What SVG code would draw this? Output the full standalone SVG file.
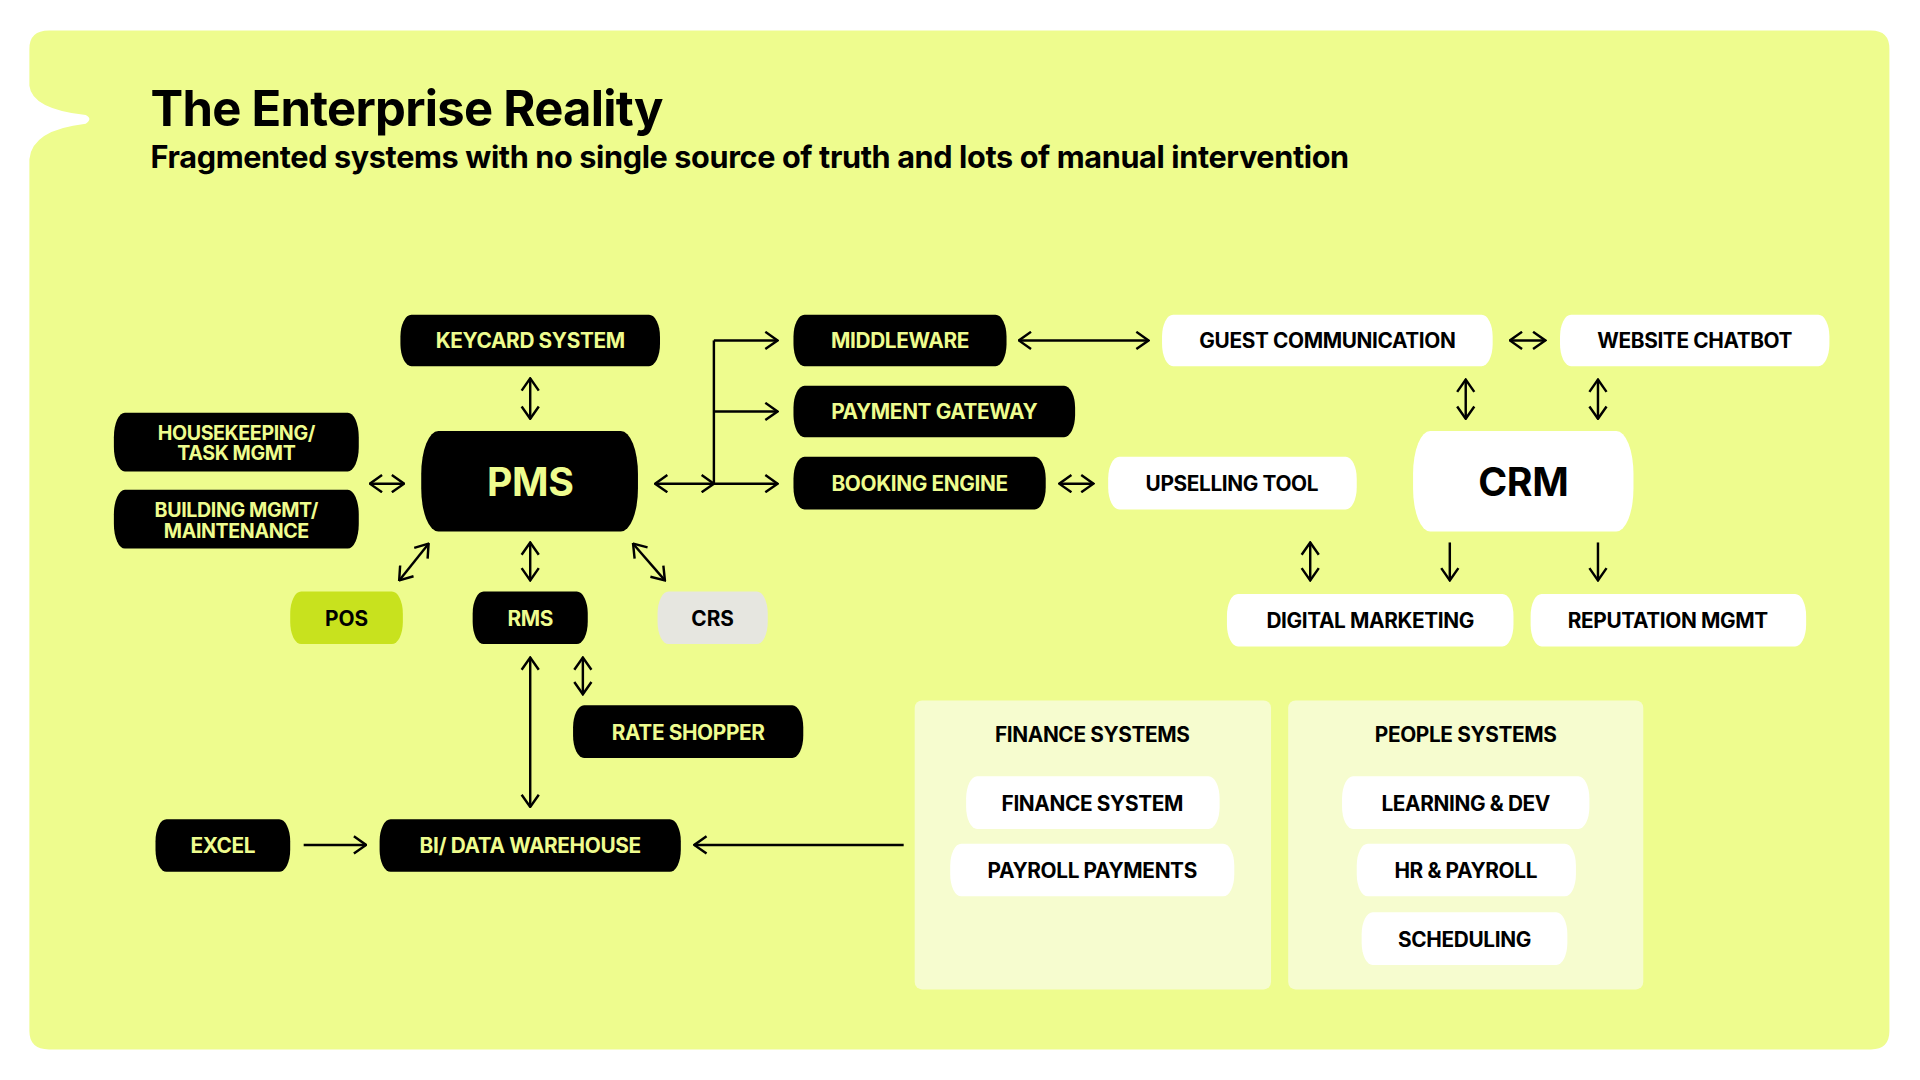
<svg xmlns="http://www.w3.org/2000/svg" width="1920" height="1080" viewBox="0 0 1920 1080">
<defs>
<marker id="ah" viewBox="0 0 12 16" refX="11" refY="8" markerWidth="12" markerHeight="16" markerUnits="userSpaceOnUse" orient="auto-start-reverse">
<path d="M1,1 L11,8 L1,15" fill="none" stroke="#000" stroke-width="2"/>
</marker>
<style>
text{font-family:Inter,"Liberation Sans",sans-serif;font-weight:700;text-anchor:middle}
.k rect{fill:#000}
.k text{fill:#EEFC8E;font-size:17px;letter-spacing:-0.3px}
.w rect{fill:#fff}
.w text{fill:#000;font-size:17px;letter-spacing:-0.3px}
.k text.s{font-size:16px}
.c line,.c path{stroke:#000;stroke-width:2;fill:none}
.d{marker-start:url(#ah);marker-end:url(#ah)}
.e{marker-end:url(#ah)}
</style>
</defs>
<rect width="1920" height="1080" fill="#fff"/>
<g transform="scale(1.2245)">
<path d="M40,25 H1528 Q1543,25 1543,40 V842 Q1543,857 1528,857 H40 Q24,857 24,842 V130 Q26,106 70,101 Q76,97 70,94 Q26,89 24,70 V40 Q24,25 40,25 Z" fill="#EEFC8E"/>
<text x="123" y="103" style="text-anchor:start;font-size:40px;letter-spacing:-0.6px" fill="#000">The Enterprise Reality</text>
<text x="123" y="137" style="text-anchor:start;font-size:25px;letter-spacing:-0.3px" fill="#000">Fragmented systems with no single source of truth and lots of manual intervention</text>

<g id="finance-group"><rect x="747" y="572" width="291" height="236" rx="6" fill="#F6FCCF"/><text x="892" y="606" font-size="17" fill="#000" letter-spacing="-0.3">FINANCE SYSTEMS</text></g>
<g id="people-group"><rect x="1052" y="572" width="290" height="236" rx="6" fill="#F6FCCF"/><text x="1197" y="606" font-size="17" fill="#000" letter-spacing="-0.3">PEOPLE SYSTEMS</text></g>

<g class="c" id="connectors">
<line class="d" x1="433" y1="309" x2="433" y2="342"/>
<line class="d" x1="302" y1="395" x2="330" y2="395"/>
<path class="e" d="M535,395 H583" style="marker-start:url(#ah)"/>
<path d="M583,395 V278"/>
<line class="e" x1="583" y1="278" x2="635" y2="278"/>
<line class="e" x1="583" y1="336" x2="635" y2="336"/>
<line class="e" x1="583" y1="395" x2="635" y2="395"/>
<line class="d" x1="832" y1="278" x2="938" y2="278"/>
<line class="d" x1="865" y1="395" x2="893" y2="395"/>
<line class="d" x1="1233" y1="278" x2="1262" y2="278"/>
<line class="d" x1="1197" y1="310" x2="1197" y2="342"/>
<line class="d" x1="1305" y1="310" x2="1305" y2="342"/>
<line class="d" x1="1070" y1="443" x2="1070" y2="474"/>
<line class="e" x1="1184" y1="443" x2="1184" y2="474"/>
<line class="e" x1="1305" y1="443" x2="1305" y2="474"/>
<line class="d" x1="350" y1="444" x2="326" y2="474"/>
<line class="d" x1="517" y1="444" x2="543" y2="474"/>
<line class="d" x1="433" y1="443" x2="433" y2="474"/>
<line class="d" x1="433" y1="537" x2="433" y2="659"/>
<line class="d" x1="476" y1="537" x2="476" y2="567"/>
<line class="e" x1="248" y1="690" x2="299" y2="690"/>
<line class="e" x1="738" y1="690" x2="567" y2="690"/>
</g>

<g id="keycard" class="k"><rect x="327" y="257" width="212" height="42" rx="9" ry="18"/><text x="433" y="284">KEYCARD SYSTEM</text></g>
<g id="housekeeping" class="k"><rect x="93" y="337" width="200" height="48" rx="9" ry="20"/><text class="s" x="193" y="359">HOUSEKEEPING/</text><text class="s" x="193" y="376">TASK MGMT</text></g>
<g id="building" class="k"><rect x="93" y="400" width="200" height="48" rx="9" ry="20"/><text class="s" x="193" y="422">BUILDING MGMT/</text><text class="s" x="193" y="439">MAINTENANCE</text></g>
<g id="pms" class="k"><rect x="344" y="352" width="177" height="82" rx="14" ry="35"/><text x="433" y="405" style="font-size:32px">PMS</text></g>
<g id="middleware" class="k"><rect x="648" y="257" width="174" height="42" rx="9" ry="18"/><text x="735" y="284">MIDDLEWARE</text></g>
<g id="payment" class="k"><rect x="648" y="315" width="230" height="42" rx="9" ry="18"/><text x="763" y="342">PAYMENT GATEWAY</text></g>
<g id="booking" class="k"><rect x="648" y="373" width="206" height="43" rx="9" ry="18"/><text x="751" y="401">BOOKING ENGINE</text></g>
<g id="guestcomm" class="w"><rect x="949" y="257" width="270" height="42" rx="9" ry="18"/><text x="1084" y="284">GUEST COMMUNICATION</text></g>
<g id="chatbot" class="w"><rect x="1274" y="257" width="220" height="42" rx="9" ry="18"/><text x="1384" y="284">WEBSITE CHATBOT</text></g>
<g id="upselling" class="w"><rect x="905" y="373" width="203" height="43" rx="9" ry="18"/><text x="1006" y="401">UPSELLING TOOL</text></g>
<g id="crm" class="w"><rect x="1154" y="352" width="180" height="82" rx="14" ry="35"/><text x="1244" y="405" style="font-size:32px">CRM</text></g>
<g id="digital" class="w"><rect x="1002" y="485" width="234" height="43" rx="9" ry="18"/><text x="1119" y="513">DIGITAL MARKETING</text></g>
<g id="reputation" class="w"><rect x="1250" y="485" width="225" height="43" rx="9" ry="18"/><text x="1362" y="513">REPUTATION MGMT</text></g>
<g id="pos"><rect x="237" y="483" width="92" height="43" rx="9" ry="18" fill="#C8E21E"/><text x="283" y="511" font-size="17" fill="#000">POS</text></g>
<g id="rms" class="k"><rect x="386" y="483" width="94" height="43" rx="9" ry="18"/><text x="433" y="511">RMS</text></g>
<g id="crs"><rect x="537" y="483" width="90" height="43" rx="9" ry="18" fill="#E6E6E0"/><text x="582" y="511" font-size="17" fill="#000">CRS</text></g>
<g id="rateshopper" class="k"><rect x="468" y="576" width="188" height="43" rx="9" ry="18"/><text x="562" y="604">RATE SHOPPER</text></g>
<g id="excel" class="k"><rect x="127" y="669" width="110" height="43" rx="9" ry="18"/><text x="182" y="697">EXCEL</text></g>
<g id="bi" class="k"><rect x="310" y="669" width="246" height="43" rx="9" ry="18"/><text x="433" y="697">BI/ DATA WAREHOUSE</text></g>
<g id="financesystem" class="w"><rect x="789" y="634" width="207" height="43" rx="9" ry="18"/><text x="892" y="662">FINANCE SYSTEM</text></g>
<g id="payroll" class="w"><rect x="776" y="689" width="232" height="43" rx="9" ry="18"/><text x="892" y="717">PAYROLL PAYMENTS</text></g>
<g id="learning" class="w"><rect x="1096" y="634" width="202" height="43" rx="9" ry="18"/><text x="1197" y="662">LEARNING &amp; DEV</text></g>
<g id="hr" class="w"><rect x="1108" y="689" width="179" height="43" rx="9" ry="18"/><text x="1197" y="717">HR &amp; PAYROLL</text></g>
<g id="scheduling" class="w"><rect x="1112" y="745" width="168" height="43" rx="9" ry="18"/><text x="1196" y="773">SCHEDULING</text></g>
</g>
</svg>
